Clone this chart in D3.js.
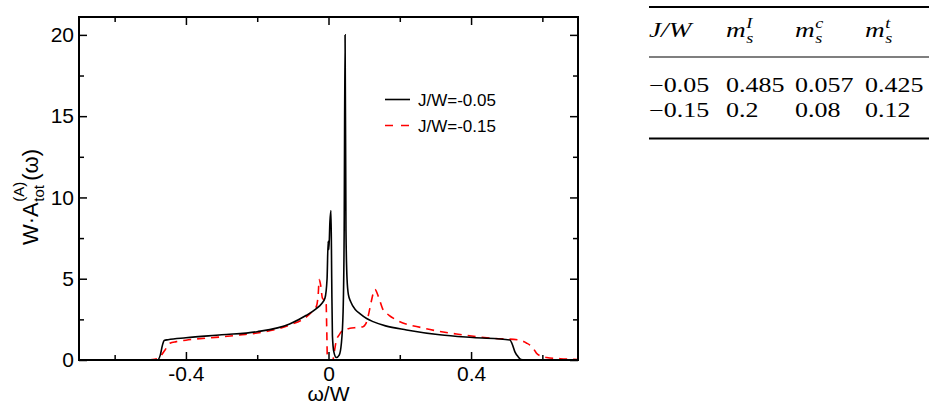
<!DOCTYPE html>
<html>
<head>
<meta charset="utf-8">
<script src="https://cdn.jsdelivr.net/npm/d3@7"></script>
<style>
  body { margin: 0; background: #fff; }
  svg { display: block; }
</style>
</head>
<body>
<svg id="chart" width="929" height="404"></svg>
<script>
// J/W = -0.05 (black, solid)
var omegaA = [-0.70, -0.48, -0.472, -0.466, -0.461, -0.45, -0.40, -0.30, -0.20, -0.109, -0.062, -0.035, -0.02, -0.01,
    -0.004, -0.001, 0.001, 0.004, 0.007, 0.009, 0.011, 0.015, 0.022, 0.030, 0.036, 0.041, 0.044, 0.0465, 0.049,
    0.052, 0.056, 0.062, 0.075, 0.088, 0.107, 0.125, 0.16, 0.219, 0.312, 0.405, 0.509, 0.515, 0.523, 0.532, 0.54, 0.55, 0.70]
var specA = [0, 0, 0.3, 0.9, 1.2, 1.25, 1.37, 1.55, 1.74, 2.22, 2.75, 3.15, 3.45, 3.8,
    5.0, 7.3, 6.8, 8.5, 9.2, 5.0, 1.5, 0.5, 0.15, 0.3, 1.0, 3.0, 8.0, 20.0, 8.0,
    5.0, 4.0, 3.6, 3.1, 2.85, 2.55, 2.36, 2.1, 1.85, 1.55, 1.38, 1.23, 1.0, 0.5, 0.2, 0.03, 0, 0]

// J/W = -0.15 (red, dashed)
var omegaB = [-0.70, -0.50, -0.487, -0.473, -0.459, -0.445, -0.427, -0.40, -0.30, -0.249, -0.20, -0.109, -0.062, -0.045,
    -0.034, -0.029, -0.026, -0.022, -0.017, -0.012, -0.007, -0.005, -0.003, 0.012, 0.017, 0.022, 0.030, 0.036,
    0.050, 0.060, 0.080, 0.097, 0.104, 0.111, 0.120, 0.130, 0.140, 0.153, 0.170, 0.191, 0.265, 0.359, 0.453,
    0.537, 0.555, 0.565, 0.575, 0.583, 0.595, 0.612, 0.65, 0.70]
var specB = [0, 0.02, 0.05, 0.2, 0.6, 1.03, 1.13, 1.22, 1.42, 1.54, 1.66, 2.15, 2.65, 3.0,
    3.3, 4.0, 4.95, 4.6, 3.8, 3.7, 3.7, 2.0, 0.0, 0.0, 0.6, 1.2, 1.55, 1.74,
    1.9, 1.95, 2.0, 2.05, 2.2, 2.67, 3.6, 4.35, 3.9, 3.1, 2.75, 2.46, 1.97, 1.6, 1.35,
    1.23, 1.05, 0.92, 0.7, 0.43, 0.25, 0.15, 0.08, 0.03]

var seriesNames = ['J/W=-0.05', 'J/W=-0.15']
var xMajor = [-0.4, 0, 0.4]
var xMinor = [-0.6, -0.2, 0.2, 0.6]
var yMajor = [0, 5, 10, 15, 20]
var yMinor = [2.5, 7.5, 12.5, 17.5]

var tableHead = [['J/W', '', ''], ['m', 's', 'I'], ['m', 's', 'c'], ['m', 's', 't']]
var tableRows = [
    ['\u22120.05', '0.485', '0.057', '0.425'],
    ['\u22120.15', '0.2', '0.08', '0.12']
]

var svg = d3.select('#chart')
var mLeft = 79, mRight = 578, mTop = 17, mBottom = 360

var x = d3.scaleLinear().domain([-0.7, 0.7]).range([mLeft, mRight])
var y = d3.scaleLinear().domain([0, 21.1]).range([mBottom, mTop])

function numLabel(d) {
    return d === 0 ? '0' : String(+d.toFixed(1))
}

function ax(fn, scale, vals, size, labels) {
    return fn(scale).tickValues(vals).tickSize(size)
        .tickFormat(labels ? numLabel : '')
}

// axes with inward ticks
var g = svg.append('g')
g.append('g').attr('transform', 'translate(0,' + mBottom + ')').call(ax(d3.axisBottom, x, xMajor, -8, true).tickPadding(6))
g.append('g').attr('transform', 'translate(0,' + mBottom + ')').call(ax(d3.axisBottom, x, xMinor, -5, false))
g.append('g').attr('transform', 'translate(0,' + mTop + ')').call(ax(d3.axisTop, x, xMajor, -8, false))
g.append('g').attr('transform', 'translate(0,' + mTop + ')').call(ax(d3.axisTop, x, xMinor, -5, false))
g.append('g').attr('transform', 'translate(' + mLeft + ',0)').call(ax(d3.axisLeft, y, yMajor, -8, true).tickPadding(5))
g.append('g').attr('transform', 'translate(' + mLeft + ',0)').call(ax(d3.axisLeft, y, yMinor, -5, false))
g.append('g').attr('transform', 'translate(' + mRight + ',0)').call(ax(d3.axisRight, y, yMajor, -8, false))
g.append('g').attr('transform', 'translate(' + mRight + ',0)').call(ax(d3.axisRight, y, yMinor, -5, false))
g.selectAll('.domain').remove()
g.selectAll('.tick line').attr('stroke', '#000').attr('stroke-width', 1.5)
g.selectAll('g').attr('font-family', '"Liberation Sans", Arial, sans-serif').attr('font-size', 21)
g.selectAll('.tick text').attr('fill', '#000')

svg.append('defs').append('clipPath').attr('id', 'clip')
    .append('rect').attr('x', mLeft).attr('y', mTop).attr('width', mRight - mLeft).attr('height', mBottom - mTop)

var line = d3.line()
    .x(function(d) { return x(d[0]) })
    .y(function(d) { return y(d[1]) })
    .curve(d3.curveMonotoneX)

var plot = svg.append('g').attr('clip-path', 'url(#clip)')
plot.append('path')
    .datum(d3.zip(omegaB, specB))
    .attr('d', line)
    .attr('fill', 'none')
    .attr('stroke', '#ff0000')
    .attr('stroke-width', 1.6)
    .attr('stroke-dasharray', '8,6')
plot.append('path')
    .datum(d3.zip(omegaA, specA))
    .attr('d', line)
    .attr('fill', 'none')
    .attr('stroke', '#000')
    .attr('stroke-width', 1.6)

svg.append('rect')
    .attr('x', mLeft).attr('y', mTop)
    .attr('width', mRight - mLeft).attr('height', mBottom - mTop)
    .attr('fill', 'none').attr('stroke', '#000').attr('stroke-width', 2)

// legend
var legend = svg.append('g').attr('font-family', '"Liberation Sans", Arial, sans-serif').attr('font-size', 17)
seriesNames.forEach(function(name, i) {
    var ly = 99.5 + i * 26
    legend.append('line')
        .attr('x1', 385).attr('x2', 410).attr('y1', ly).attr('y2', ly)
        .attr('stroke', i === 0 ? '#000' : '#ff0000')
        .attr('stroke-width', 1.6)
        .attr('stroke-dasharray', i === 0 ? null : '8,8')
    legend.append('text').attr('x', 418).attr('y', ly + 6.5).text(name)
})

// x label
svg.append('text')
    .attr('x', 328.5).attr('y', 401)
    .attr('text-anchor', 'middle')
    .attr('font-family', '"Liberation Sans", Arial, sans-serif')
    .attr('font-size', 21)
    .text('\u03c9/W')

// y label, built from pieces so sub and sup stack
var yl = svg.append('g')
    .attr('font-family', '"Liberation Sans", Arial, sans-serif')
    .attr('transform', 'translate(38,0) rotate(-90)')
var pos = -245
var t1 = yl.append('text').attr('x', pos).attr('y', 0).attr('font-size', 22).text('W\u00b7A')
pos += t1.node().getComputedTextLength() + 0.5
var t2 = yl.append('text').attr('x', pos).attr('y', 6).attr('font-size', 15).text('tot')
var t3 = yl.append('text').attr('x', pos).attr('y', -14).attr('font-size', 15).text('(A)')
pos += Math.max(t2.node().getComputedTextLength(), t3.node().getComputedTextLength()) + 1
yl.append('text').attr('x', pos).attr('y', 0).attr('font-size', 22).text('(\u03c9)')

// table
var colX = [649, 726, 795, 865]
var tbl = svg.append('g')
var rules = [[7, 2.2], [57, 1.1], [138.5, 2.2]]
rules.forEach(function(r) {
    tbl.append('line').attr('x1', 649).attr('x2', 929).attr('y1', r[0]).attr('y2', r[0])
        .attr('stroke', '#000').attr('stroke-width', r[1])
})
var sx = 1.3
var tt = tbl.append('g')
    .attr('font-family', '"Liberation Serif", "DejaVu Serif", serif')
    .attr('font-size', 20)
    .attr('transform', 'scale(' + sx + ',1)')
tableHead.forEach(function(h, i) {
    var t = tt.append('text').attr('x', colX[i] / sx).attr('y', 37).attr('font-style', 'italic')
        .attr('font-size', 21)
    t.append('tspan').text(h[0])
    if (h[1]) {
        var w = t.node().getComputedTextLength()
        tt.append('text').attr('x', colX[i] / sx + w + 0.5).attr('y', 43).attr('font-size', 14)
            .attr('font-style', 'italic').text(h[1])
        tt.append('text').attr('x', colX[i] / sx + w + 0.5).attr('y', 28).attr('font-size', 14)
            .attr('font-style', 'italic').text(h[2])
    }
})
tableRows.forEach(function(row, r) {
    row.forEach(function(v, i) {
        tt.append('text').attr('x', colX[i] / sx).attr('y', 92 + r * 25).text(v)
    })
})
</script>
</body>
</html>
